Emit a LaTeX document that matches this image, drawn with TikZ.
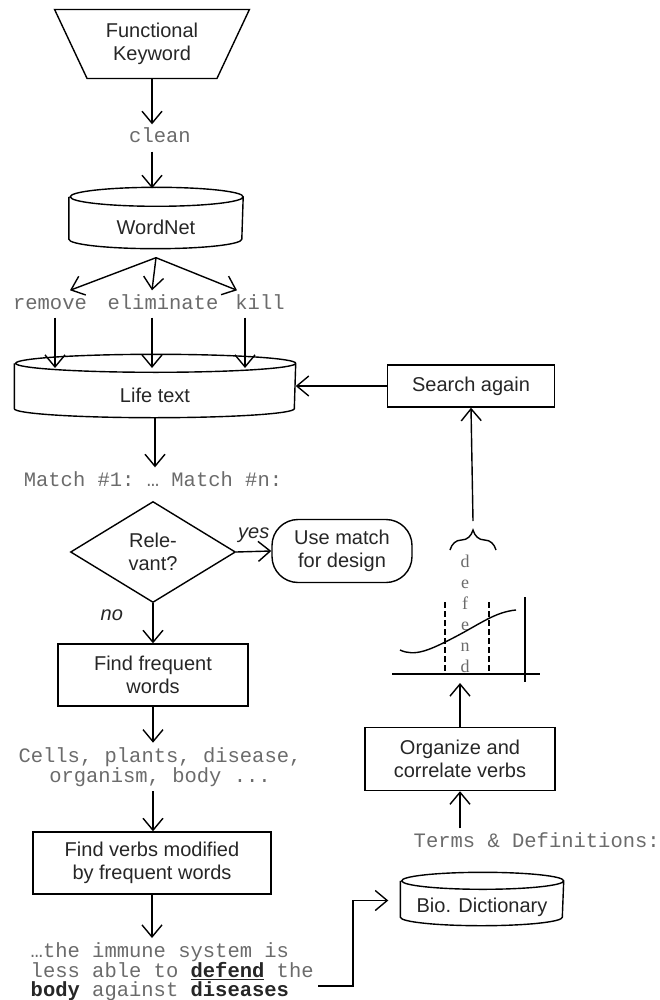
\documentclass[tikz,border=0pt]{standalone}
\usepackage{fontspec}
\setmainfont{Liberation Sans}
\setmonofont{Liberation Mono}
\newfontfamily\fcserif{Liberation Serif}
\usepackage{tikz}
\usetikzlibrary{arrows.meta,shapes.geometric,decorations.pathreplacing}
\definecolor{fcink}{gray}{0.15}
\definecolor{fcgray}{gray}{0.42}
\newcommand{\fcsans}{\fontsize{20}{23}\selectfont}
\newcommand{\fcmono}{\ttfamily\fontsize{20.5}{18.6}\selectfont}
\tikzset{
  fc_node/.style = {draw=black, text=fcink, align=center, inner sep=0pt,
    font=\fcsans, line width=1.4pt},
  fc_box/.style = {fc_node, rectangle},% plain step
  fc_db/.style 2 args = {fc_node, rectangle, draw=none, minimum width=#1,
    append after command={\pgfextra{
      \draw[-, line width=1.4pt] ([yshift=#2]\tikzlastnode.north west)
        -- ([yshift=#2]\tikzlastnode.south west)
        arc[start angle=180, end angle=360, x radius=#1/2, y radius=#2]
        -- ([yshift=#2]\tikzlastnode.north east)
        arc[start angle=0, end angle=360, x radius=#1/2, y radius=#2];}}},% data store, node = front face
  fc_in/.style = {fc_node, trapezium, shape border rotate=180,
    trapezium stretches=true, trapezium angle=61},% keyword in
  fc_ask/.style = {fc_node, diamond, aspect=1.6},% decision
  fc_end/.style = {fc_node, rectangle, rounded corners=26pt},% terminal
  fc_txt/.style = {font=\fcmono, text=fcgray, align=center, inner sep=4pt},% data words
  fc_word/.style = {fc_txt, text height=14pt, text depth=4pt},% one line of words
  fc_cut/.style = {-, dashed, dash pattern=on 6pt off 3pt, line width=2.6pt}% cut marks on the plot
}

\begin{document}
\begin{tikzpicture}[x=1pt, y=-1pt, ->, >={Straight Barb[length=12pt,width=20pt]},
  line width=1.4pt]
\useasboundingbox (0,0) rectangle (660,1000);
% left column: keyword down to verbs
\node[fc_in, minimum width=195pt, minimum height=69pt] (keyword) at (152,44) {Functional\\Keyword};
\node[fc_word] (clean) at (160,138) {clean};
\node[fc_db={173pt}{9.5pt}, minimum height=41pt] (wordnet) at (156,227.5) {WordNet};
\node[fc_word] (w_remove) at (50,304) {remove};
\node[fc_word] (w_elim) at (163,304) {eliminate};
\node[fc_word] (w_kill) at (260,304) {kill};
\coordinate (life_in) at (155,368);
\node[fc_db={280pt}{9pt}, minimum height=44pt] (life) at (155,395) {Life text};
\node[fc_word] (matches) at (153,481) {Match \#1: … Match \#n:};
\node[fc_ask, minimum width=165pt, minimum height=101pt] (relevant) at (153,552) {Rele-\\vant?};
\node[fc_end, minimum width=140pt, minimum height=63pt] (use) at (342,551) {Use match\\for design};
\node[fc_box, minimum width=190pt, minimum height=62pt] (frequent) at (153,675) {Find frequent\\words};
\node[fc_txt] (nouns) at (160,767) {Cells, plants, disease,\\organism, body ...};
\node[fc_box, minimum width=238pt, minimum height=62pt] (verbs) at (152,863) {Find verbs modified\\by frequent words};
\node[fc_txt, align=left, anchor=north west] (sentence) at (26,938)
  {…the immune system is\\
   less able to \textcolor{fcink}{\underline{\textbf{defend}}} the\\
   \textcolor{fcink}{\textbf{body}} against \textcolor{fcink}{\textbf{diseases}}};
\coordinate (sent_end) at (318,986);
% right column: dictionary back up to search again
\node[fc_db={162pt}{8.5pt}, minimum height=35pt] (bio) at (482,907.5) {Bio. Dictionary};
\node[fc_word, anchor=west] (terms) at (409,842) {Terms \& Definitions:};
\node[fc_box, minimum width=190pt, minimum height=63pt] (organize) at (460,759) {Organize and\\correlate verbs};
\coordinate (graph_base) at (464,683);
\node[font=\fcserif\fontsize{18}{21}\selectfont, text=fcgray, align=center, inner sep=0pt] (letters) at (465,614) {d\\e\\f\\e\\n\\d};
\coordinate (brace_tip) at (473,521);
\node[fc_box, minimum width=167pt, minimum height=42pt] (search) at (471,386) {Search again};

% connectors
\draw (keyword.south) -- (keyword.south |- clean.north);
\draw (keyword.south |- clean.south) -- ([yshift=18pt]keyword.south |- wordnet.north);
\draw ([yshift=-9pt]wordnet.south) -- ([xshift=20pt]w_remove.north);
\draw ([yshift=-9pt]wordnet.south) -- ([xshift=-11pt]w_elim.north);
\draw ([yshift=-9pt]wordnet.south) -- ([xshift=-23pt]w_kill.north);
\draw ([xshift=5pt]w_remove.south) -- ([xshift=5pt]w_remove.south |- life_in);
\draw ([xshift=-11pt]w_elim.south) -- ([xshift=-11pt]w_elim.south |- life_in);
\draw ([xshift=-15pt]w_kill.south) -- ([xshift=-15pt]w_kill.south |- life_in);
\draw (search.west) -- (search.west -| life.east);
\draw (life.south) -- (life.south |- matches.north);
\draw (relevant.east) -- node[above=5pt, font=\fcsans\itshape, text=fcink] {yes} (use.west);
\draw (relevant.south) -- node[pos=0.3, left=26pt, font=\fcsans\itshape, text=fcink] {no} (frequent.north);
\draw (frequent.south) -- (frequent.south |- nouns.north);
\draw (frequent.south |- nouns.south) -- (frequent.south |- verbs.north);
\draw (verbs.south) -- (verbs.south |- sentence.north);
\draw (sent_end) -- ++(35,0) |- ([xshift=-12pt, yshift=7pt]bio.west);
\draw (organize.south |- terms.north) -- (organize.south);
\draw (organize.north) -- (organize.north |- graph_base);
\draw (brace_tip) -- (search.south);

% the plot of defend
\draw[-] (392,674) -- (540,674);
\draw[-] (525,597) -- (525,682);
\draw[-] (400,650) .. controls (415,657) and (430,650) .. (455,637)
  .. controls (480,624) and (495,612) .. (516,610);
\draw[fc_cut] (445,602) -- (445,675);
\draw[fc_cut] (489,602) -- (489,675);
\draw[-, decorate, decoration={brace, amplitude=20pt}] (450,550) -- (496,550);
\end{tikzpicture}
\end{document}
